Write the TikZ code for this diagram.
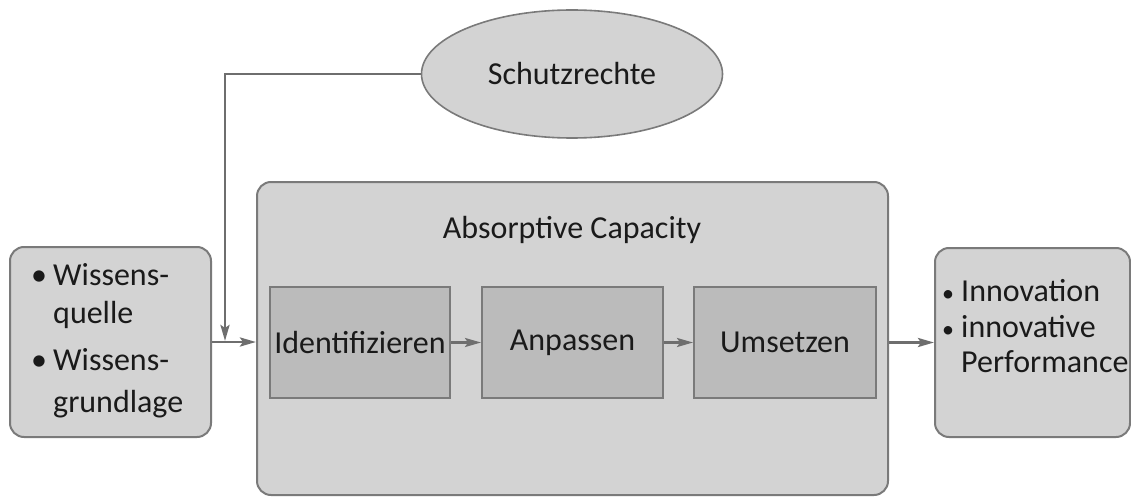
\documentclass[tikz,border=0pt]{standalone}
\usepackage{fontspec}
\setmainfont{Carlito}
\usetikzlibrary{arrows.meta,shapes.geometric}
\definecolor{boxfill}{HTML}{D3D3D3}
\definecolor{stepfill}{HTML}{BBBBBB}
\definecolor{edge}{HTML}{7A7A7A}
\definecolor{wire}{HTML}{6E6E6E}
\definecolor{ink}{HTML}{1A1A1A}
\newcommand{\bigfont}{\fontsize{32}{38}\selectfont}
\tikzset{
  outerbox/.style={draw=edge, fill=boxfill, line width=2pt, rounded corners=14pt,
    inner sep=0pt},
  stepbox/.style={draw=edge, fill=stepfill, line width=2pt, inner sep=0pt,
    minimum width=180pt, minimum height=111pt, text=ink, font=\bigfont},
  oval/.style={ellipse, draw=edge, fill=boxfill, line width=1.6pt, inner sep=0pt,
    minimum width=301pt, minimum height=128pt, text=ink, font=\bigfont},
  wireline/.style={draw=wire, line width=2.8pt,
    -{Stealth[length=16pt,width=9pt,inset=3pt]}},
  thinwire/.style={draw=wire, line width=2.2pt,
    -{Stealth[length=16pt,width=9pt,inset=3pt]}},
  txt/.style={anchor=base west, inner sep=0pt, text=ink, font=\bigfont},
  bul/.style={anchor=base, inner sep=0pt, text=ink, font=\bigfont},
  smallbul/.style={anchor=base, inner sep=0pt, text=ink,
    font=\fontsize{24}{28}\selectfont},
}
\begin{document}
\begin{tikzpicture}[x=1pt,y=-1pt]
\useasboundingbox (0,0) rectangle (1131,497);

% input box on the left
\node[outerbox, minimum width=201pt, minimum height=190pt] (src) at (110.5,342) {};
\node[bul] (b1) at (39,285) {\textbullet};
\node[txt] (s1) at (53,285) {Wissens-};
\node[txt] (s2) at (53,323) {quelle};
\node[bul] (b2) at (39,370) {\textbullet};
\node[txt] (s3) at (53,370) {Wissens-};
\node[txt] (s4) at (53,412) {grundlage};

% absorptive capacity frame
\node[outerbox, minimum width=631pt, minimum height=313pt] (acap) at (572.5,338.5) {};
\node[anchor=base, inner sep=0pt, text=ink, font=\bigfont]
  (acaptitle) at (572,238) {Absorptive Capacity};

% the three steps
\node[stepbox] (ident) at (360,342.5) {Identifizieren};
\node[stepbox, minimum width=181pt] (anp) at (572.5,342.5) {Anpassen};
\node[stepbox, minimum width=182pt] (ums) at (785,342.5) {Umsetzen};

% output box on the right
\node[outerbox, minimum width=195pt, minimum height=189pt] (out) at (1032.5,342.5) {};
\node[smallbul] (b3) at (948,301) {\textbullet};
\node[txt] (o1) at (961,301) {Innovation};
\node[smallbul] (b4) at (948,337) {\textbullet};
\node[txt] (o2) at (961,337) {innovative};
\node[txt] (o3) at (961,372) {Performance};

% protective rights
\node[oval] (schutz) at (572,74) {Schutzrechte};

% connectors
\coordinate (join) at (225,341);
\draw[wireline] (schutz.west) -| (join);
\draw[wireline] (src.east) -- (src.east -| acap.west);
\draw[thinwire] (ident) -- (anp);
\draw[thinwire] (anp) -- (ums);
\draw[wireline] (acap.east |- out.west) -- (out.west);
\end{tikzpicture}
\end{document}
